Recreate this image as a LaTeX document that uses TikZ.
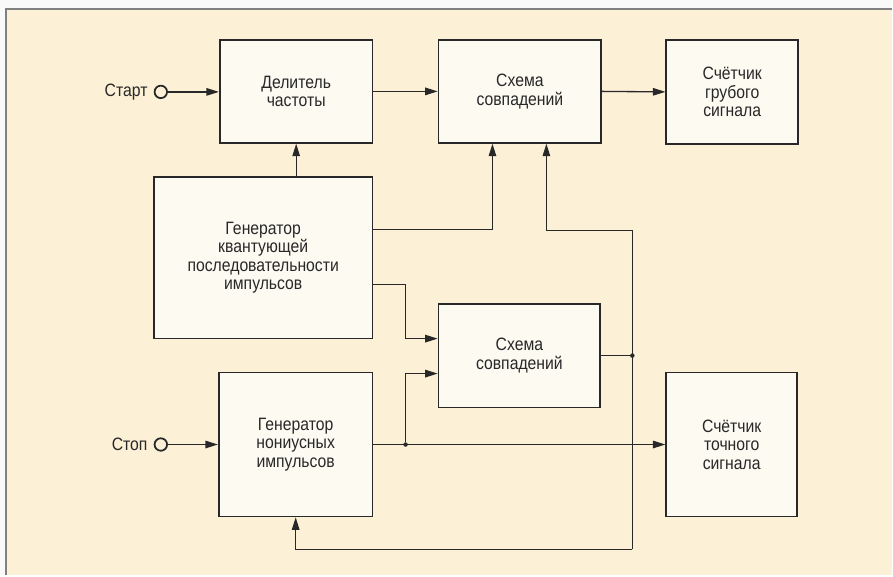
\documentclass[tikz,border=0pt]{standalone}
\usepackage{fontspec}
\setmainfont[FakeStretch=0.88]{Liberation Sans}
\usetikzlibrary{arrows.meta}
\definecolor{paper}{RGB}{252,240,215}
\definecolor{boxfill}{RGB}{253,250,242}
\definecolor{ink}{RGB}{40,40,40}

\begin{document}
\begin{tikzpicture}[x=0.02cm, y=-0.02cm, >={Triangle[length=0.25cm, width=0.15cm]},
    blk/.style={draw=ink, line width=1pt, fill=boxfill, align=center, text=ink,
        font=\fontsize{10.2}{10.5}\selectfont, inner sep=0pt},
    port/.style={circle, draw=ink, line width=1pt, minimum size=0.25cm, inner sep=0pt,
        label distance=0.02cm},
    wire/.style={draw=ink, line width=0.75pt},
    dot/.style={circle, fill=ink, minimum size=0.09cm, inner sep=0pt}]
            % Frame
            \fill[white!95!gray] (0,0) rectangle (893,576);
            \fill[paper] (6,9) rectangle (893,576);
            \draw[gray, line width=1.1pt] (6,576) -- (6,9) -- (893,9);
            \useasboundingbox (0,0) rectangle (893,576);

            % Blocks
            \node[blk, minimum width=3.06cm, minimum height=2.06cm] (div) at (296.5,91.5) {Делитель\\частоты};
            \node[blk, minimum width=3.26cm, minimum height=2.06cm] (sch1) at (520.5,91.5) {Схема\\совпадений};
            \node[blk, minimum width=2.64cm, minimum height=2.08cm] (cnt1) at (733,92) {Счётчик\\грубого\\сигнала};
            \node[blk, minimum width=4.38cm, minimum height=3.24cm] (gen) at (263.5,258) {Генератор\\квантующей\\последовательности\\импульсов};
            \node[blk, minimum width=3.24cm, minimum height=2.08cm] (sch2) at (520,356) {Схема\\совпадений};
            \node[blk, minimum width=3.08cm, minimum height=2.88cm] (non) at (296,445) {Генератор\\нониусных\\импульсов};
            \node[blk, minimum width=2.62cm, minimum height=2.88cm] (cnt2) at (732.5,445) {Счётчик\\точного\\сигнала};

            % Inputs
            \node[port, label={[text=ink, font=\fontsize{10.2}{10.5}\selectfont]left:Старт}] (start) at (161,92) {};
            \node[port, label={[text=ink, font=\fontsize{10.2}{10.5}\selectfont]left:Стоп}] (stop) at (161,445) {};

            % Junctions
            \node[dot] (j) at (406,445) {};
            \node[dot] (k) at (633,356) {};
            \coordinate (b) at (633,550);

            % Connections
            \draw[wire, ->] (start) -- (start -| div.west);
            \draw[wire, ->] (stop) -- (stop -| non.west);
            \draw[wire, ->] (div.east) -- (sch1.west);
            \draw[wire, ->] (sch1.east) -- (cnt1.west);
            \draw[wire, ->] (div.south |- gen.north) -- (div.south);
            \draw[wire, ->] (gen.east |- 0,230) -| ([xshift=-0.55cm]sch1.south);
            \draw[wire, ->] (gen.east |- 0,285) -| (j |- 0,339) -- (sch2.west |- 0,339);
            \draw[wire, ->] (j) |- (sch2.west |- 0,374);
            \draw[wire, ->] (non.east) -- (cnt2.west);
            \draw[wire] (sch2.east) -- (k);
            \draw[wire, ->] (b) -- (k |- 0,231) -| ([xshift=0.53cm]sch1.south);
            \draw[wire, ->] (b) -| (non.south);
\end{tikzpicture}
\end{document}
